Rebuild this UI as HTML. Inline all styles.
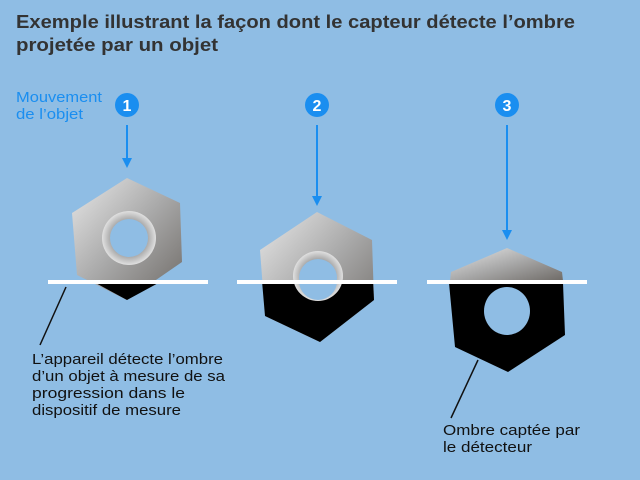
<!DOCTYPE html>
<html><head><meta charset="utf-8"><style>
html,body{margin:0;padding:0;background:#8fbde4;}
svg{display:block}
text{font-family:"Liberation Sans",sans-serif;}
</style></head><body>
<svg width="640" height="480" viewBox="0 0 640 480">
<defs>
<linearGradient id="m" x1="0" y1="0" x2="1" y2="1">
<stop offset="0" stop-color="#e8e8e8"/><stop offset="0.5" stop-color="#a9a9a9"/><stop offset="1" stop-color="#6e6a66"/></linearGradient>
<radialGradient id="h" cx="0.5" cy="0.5" r="0.5"><stop offset="0.6" stop-color="#9a9a9a"/><stop offset="1" stop-color="#e0e0e0"/></radialGradient>
</defs>
<rect width="640" height="480" fill="#8fbde4"/>
<text x="16" y="28" font-size="18.5" font-weight="bold" fill="#333" textLength="559" lengthAdjust="spacingAndGlyphs">Exemple illustrant la façon dont le capteur détecte l’ombre</text>
<text x="16" y="51" font-size="18.5" font-weight="bold" fill="#333" textLength="202" lengthAdjust="spacingAndGlyphs">projetée par un objet</text>
<text x="16" y="102" font-size="14.5" fill="#1a8ef0" textLength="86" lengthAdjust="spacingAndGlyphs">Mouvement</text>
<text x="16" y="119" font-size="14.5" fill="#1a8ef0" textLength="67" lengthAdjust="spacingAndGlyphs">de l’objet</text>
<g fill="#1a8ef0">
<circle cx="127" cy="105" r="12"/><circle cx="317" cy="105" r="12"/><circle cx="507" cy="105" r="12"/>
</g>
<g fill="#fff" font-size="16" font-weight="bold" text-anchor="middle">
<text x="127" y="111">1</text><text x="317" y="111">2</text><text x="507" y="111">3</text></g>
<g stroke="#1a8ef0" stroke-width="2"><line x1="127" y1="125" x2="127" y2="160"/><line x1="317" y1="125" x2="317" y2="198"/><line x1="507" y1="125" x2="507" y2="232"/></g>
<g fill="#1a8ef0"><path d="M122 158h10l-5 10z"/><path d="M312 196h10l-5 10z"/><path d="M502 230h10l-5 10z"/></g>
<!-- nut1 -->
<path d="M127 178L180 203L182 262L127 300L77 275L72 213Z" fill="url(#m)"/>
<path d="M92 281L162 281L127 300Z" fill="#000"/>
<circle cx="129" cy="238" r="27" fill="url(#h)"/><circle cx="129" cy="238" r="19" fill="#8fbde4"/>
<!-- nut2 -->
<path d="M317 212L372 240L374 300L320 342L265 316L260 250Z" fill="url(#m)"/>
<path d="M262 281L373 281L374 300L320 342L265 316Z" fill="#000"/>
<circle cx="318" cy="276" r="25" fill="url(#h)"/><circle cx="318" cy="278" r="19" fill="#8fbde4"/>
<path d="M299 281h38a19 19 0 0 1-38 0z" fill="#8fbde4"/>
<!-- nut3 -->
<path d="M507 248L562 272L563 281L450 281L451 272Z" fill="url(#m)"/>
<path d="M449 283L563 283L565 335L508 372L455 347Z" fill="#000"/>
<ellipse cx="507" cy="311" rx="23" ry="24" fill="#8fbde4"/>
<g fill="#fff"><rect x="48" y="280" width="160" height="4"/><rect x="237" y="280" width="160" height="4"/><rect x="427" y="280" width="160" height="4"/></g>
<g stroke="#111" stroke-width="1.5"><line x1="66" y1="287" x2="40" y2="345"/><line x1="478" y1="360" x2="451" y2="418"/></g>
<g font-size="14.5" fill="#111" lengthAdjust="spacingAndGlyphs">
<text x="32" y="364" textLength="191" lengthAdjust="spacingAndGlyphs">L’appareil détecte l’ombre</text>
<text x="32" y="381" textLength="193" lengthAdjust="spacingAndGlyphs">d’un objet à mesure de sa</text>
<text x="32" y="398" textLength="153" lengthAdjust="spacingAndGlyphs">progression dans le</text>
<text x="32" y="415" textLength="149" lengthAdjust="spacingAndGlyphs">dispositif de mesure</text>
<text x="443" y="435" textLength="137" lengthAdjust="spacingAndGlyphs">Ombre captée par</text>
<text x="443" y="452" textLength="89" lengthAdjust="spacingAndGlyphs">le détecteur</text>
</g>
</svg>
</body></html>
